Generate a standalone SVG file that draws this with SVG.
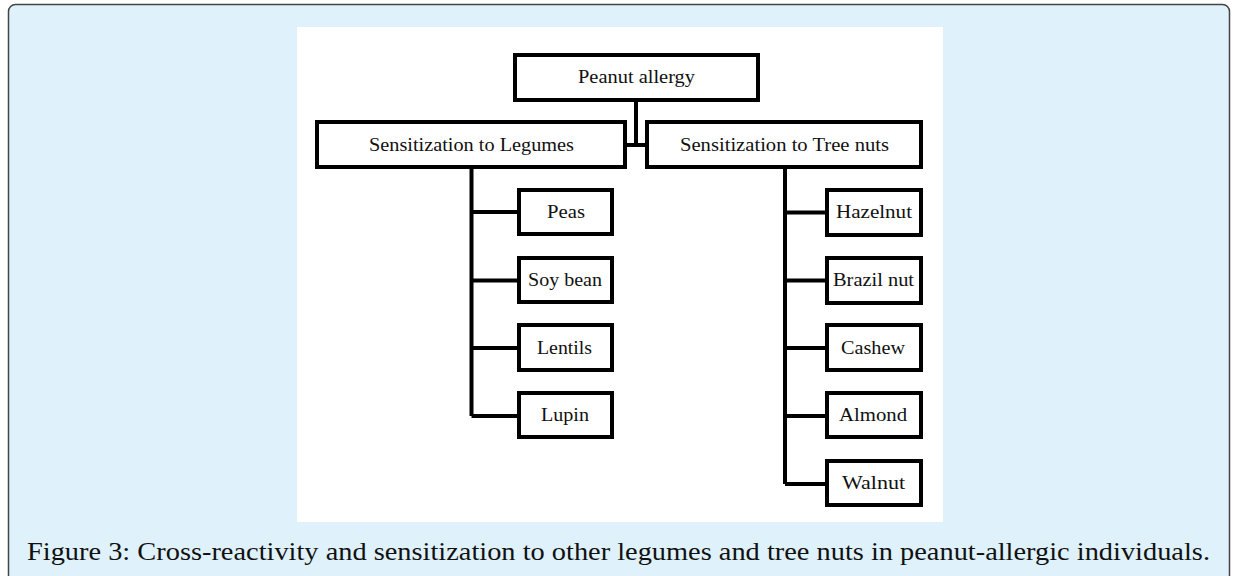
<svg xmlns="http://www.w3.org/2000/svg" width="1233" height="576" viewBox="0 0 1233 576">
<style>
.box{fill:#fff;stroke:#000;stroke-width:4}
.lbl{font-family:"Liberation Serif","DejaVu Serif",serif;font-size:19px;fill:#111;text-anchor:middle}
.con{fill:none;stroke:#000;stroke-width:4}
.cap{font-family:"Liberation Serif","DejaVu Serif",serif;font-size:25px;fill:#111}
</style>
<rect x="8.5" y="4.5" width="1221" height="600" rx="7" fill="#dff1fb" stroke="#444" stroke-width="1.5"/>
<rect x="297" y="27" width="646" height="495" fill="#fff"/>
<g id="connectors">
<path class="con" d="M636 101V145M627 145H645"/>
<path class="con" d="M471.5 168V416M471.5 212H517M471.5 280.5H517M471.5 348H517M471.5 416H517"/>
<path class="con" d="M785 168V484M785 212.5H825M785 280.5H825M785 348H825M785 416H825M785 484H825"/>
</g>
<g id="peanut"><rect class="box" x="515" y="55" width="243" height="45"/><text class="lbl" x="636.5" y="83" textLength="117" lengthAdjust="spacingAndGlyphs">Peanut allergy</text></g>
<g id="legumes"><rect class="box" x="317" y="122" width="308" height="45"/><text class="lbl" x="471.5" y="151" textLength="205" lengthAdjust="spacingAndGlyphs">Sensitization to Legumes</text></g>
<g id="treenuts"><rect class="box" x="647" y="122" width="274" height="45"/><text class="lbl" x="784.5" y="151" textLength="209" lengthAdjust="spacingAndGlyphs">Sensitization to Tree nuts</text></g>
<g id="peas"><rect class="box" x="519" y="190" width="93" height="44"/><text class="lbl" x="566" y="218" textLength="38" lengthAdjust="spacingAndGlyphs">Peas</text></g>
<g id="soybean"><rect class="box" x="519" y="258" width="93" height="44"/><text class="lbl" x="565" y="286" textLength="74" lengthAdjust="spacingAndGlyphs">Soy bean</text></g>
<g id="lentils"><rect class="box" x="519" y="325" width="93" height="45"/><text class="lbl" x="564.5" y="354" textLength="55" lengthAdjust="spacingAndGlyphs">Lentils</text></g>
<g id="lupin"><rect class="box" x="519" y="393" width="93" height="44"/><text class="lbl" x="565" y="421" textLength="48" lengthAdjust="spacingAndGlyphs">Lupin</text></g>
<g id="hazelnut"><rect class="box" x="827" y="190" width="94" height="45"/><text class="lbl" x="874" y="218" textLength="76" lengthAdjust="spacingAndGlyphs">Hazelnut</text></g>
<g id="brazilnut"><rect class="box" x="827" y="258" width="94" height="45"/><text class="lbl" x="873.5" y="286" textLength="81" lengthAdjust="spacingAndGlyphs">Brazil nut</text></g>
<g id="cashew"><rect class="box" x="827" y="325" width="94" height="45"/><text class="lbl" x="873" y="354" textLength="64" lengthAdjust="spacingAndGlyphs">Cashew</text></g>
<g id="almond"><rect class="box" x="827" y="393" width="94" height="44"/><text class="lbl" x="873" y="421" textLength="68" lengthAdjust="spacingAndGlyphs">Almond</text></g>
<g id="walnut"><rect class="box" x="827" y="461" width="94" height="44"/><text class="lbl" x="873.5" y="489" textLength="63" lengthAdjust="spacingAndGlyphs">Walnut</text></g>
<text class="cap" x="27" y="560" textLength="1183" lengthAdjust="spacingAndGlyphs">Figure 3: Cross-reactivity and sensitization to other legumes and tree nuts in peanut-allergic individuals.</text>
</svg>
